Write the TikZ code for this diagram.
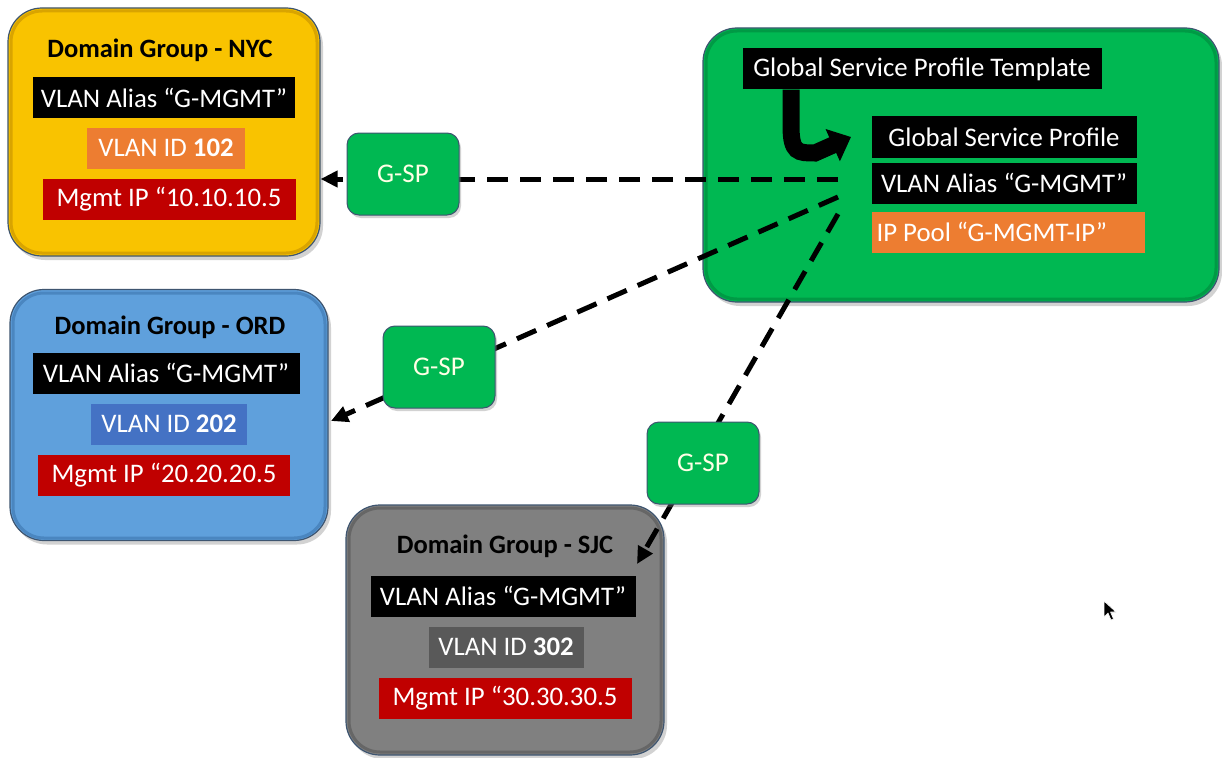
\documentclass[tikz,border=0pt]{standalone}
\usepackage{fontspec}
\setmainfont{Carlito}
\usetikzlibrary{arrows.meta,shadows}

\definecolor{gold}{HTML}{F9C300}
\definecolor{goldedge}{HTML}{D9A400}
\definecolor{skyblue}{HTML}{5FA0DC}
\definecolor{skyedge}{HTML}{4A86C0}
\definecolor{midgray}{HTML}{808080}
\definecolor{grayedge}{HTML}{666666}
\definecolor{leaf}{HTML}{00B852}
\definecolor{leafedge}{HTML}{009A45}
\definecolor{outline}{HTML}{3E5570}
\definecolor{tangerine}{HTML}{ED7D31}
\definecolor{royal}{HTML}{4472C4}
\definecolor{slate}{HTML}{595959}
\definecolor{crimson}{HTML}{C00000}
\definecolor{paleyellow}{HTML}{FFFFE6}

\tikzset{
  groupbox/.style={rounded corners=34pt, draw=outline, line width=1.2pt,
    drop shadow={opacity=0.35, shadow xshift=3pt, shadow yshift=-4pt}},
  title/.style={font=\fontsize{26.5}{30}\selectfont\bfseries, text=black},
  bar/.style={inner sep=0pt, text=white, font=\fontsize{26.8}{31}\selectfont,
    minimum height=41pt},
  spbox/.style={rounded corners=12pt, fill=leaf, draw=outline, line width=1pt,
    minimum width=112pt, minimum height=82pt, text=paleyellow,
    font=\fontsize{27}{31}\selectfont,
    drop shadow={opacity=0.35, shadow xshift=2pt, shadow yshift=-3pt}},
  dashlink/.style={line width=5pt, dash pattern=on 21pt off 12pt,
    -{Triangle[length=17pt,width=16pt]}},
}

\begin{document}
\begin{tikzpicture}[x=1pt,y=-1pt]
\useasboundingbox[fill=white] (0,0) rectangle (1222,757);

% ---- Domain group NYC ----
\node[groupbox, fill=gold, minimum width=312pt, minimum height=248pt] (nyc) at (164,132) {};
\draw[goldedge, line width=3pt, rounded corners=31pt] (11,11) rectangle (317,253);
\node[title] (nyct) at (160,50) {Domain Group - NYC};
\node[bar, fill=black, minimum width=262pt] (nyca) at (164,98) {VLAN Alias “G-MGMT”};
\node[bar, fill=tangerine, minimum width=158pt] (nycv) at (166,148) {VLAN ID \textbf{102}};
\node[bar, fill=crimson, minimum width=253pt] (nycm) at (169,199) {Mgmt IP “10.10.10.5};

% ---- Domain group ORD ----
\node[groupbox, fill=skyblue, minimum width=318pt, minimum height=251pt] (ord) at (169,415) {};
\draw[skyedge, line width=3pt, rounded corners=31pt] (13,293) rectangle (325,538);
\node[title] (ordt) at (170,327) {Domain Group - ORD};
\node[bar, fill=black, minimum width=267pt] (orda) at (166,373) {VLAN Alias “G-MGMT”};
\node[bar, fill=royal, minimum width=156pt] (ordv) at (169,424) {VLAN ID \textbf{202}};
\node[bar, fill=crimson, minimum width=252pt] (ordm) at (164,475) {Mgmt IP “20.20.20.5};

% ---- Domain group SJC ----
\node[groupbox, fill=midgray, minimum width=318pt, minimum height=250pt] (sjc) at (505,630) {};
\draw[grayedge, line width=3pt, rounded corners=31pt] (349,508) rectangle (661,752);
\node[title] (sjct) at (505,546) {Domain Group - SJC};
\node[bar, fill=black, minimum width=265pt] (sjca) at (503,596) {VLAN Alias “G-MGMT”};
\node[bar, fill=slate, minimum width=155pt] (sjcv) at (506,647) {VLAN ID \textbf{302}};
\node[bar, fill=crimson, minimum width=253pt] (sjcm) at (505,698) {Mgmt IP “30.30.30.5};

% ---- Global service profile ----
\node[groupbox, fill=leaf, minimum width=516pt, minimum height=274pt] (glob) at (961,165) {};
\draw[leafedge, line width=3pt, rounded corners=31pt] (706,31) rectangle (1216,299);
\node[bar, fill=black, minimum width=359pt] (tmpl) at (922,69) {Global Service Profile Template};
\node[bar, fill=black, minimum width=265pt] (gsp) at (1004,137) {Global Service Profile};
\node[bar, fill=black, minimum width=265pt] (gvlan) at (1004,183) {VLAN Alias “G-MGMT”};
\node[bar, fill=tangerine, minimum width=273pt, text width=263pt, align=flush left] (gpool) at (1008,232) {IP Pool “G-MGMT-IP”};

% template instantiates the profile
\coordinate (bend) at (791,126);
\draw[line width=17pt, -{Triangle[length=20pt,width=34pt]}]
  (tmpl.south -| bend) -- (bend) .. controls (791,153) and (798,153) .. (815,153) -- (gsp.west -| 851,0);

% ---- profile pushed to each domain group ----
\coordinate (s1) at (838,179);
\coordinate (s2) at (838,197);
\coordinate (s3) at (838,214);
\coordinate (t2) at (331,421);
\coordinate (t3) at (637,564);
\draw[dashlink] (s1) -- (nyc.east |- s1);
\draw[dashlink] (s2) -- (t2);
\draw[dashlink] (s3) -- (t3);

\node[spbox] (sp1) at (403,174) {G-SP};
\node[spbox] (sp2) at (439,367) {G-SP};
\node[spbox] (sp3) at (703,463) {G-SP};

% ---- mouse pointer ----
\draw[fill=black, draw=white, line width=0.6pt, line join=round]
  (1104,601) -- (1104,617) -- (1108,613) -- (1111,620) -- (1113.5,619) -- (1110.5,612) -- (1116,612) -- cycle;
\end{tikzpicture}
\end{document}
